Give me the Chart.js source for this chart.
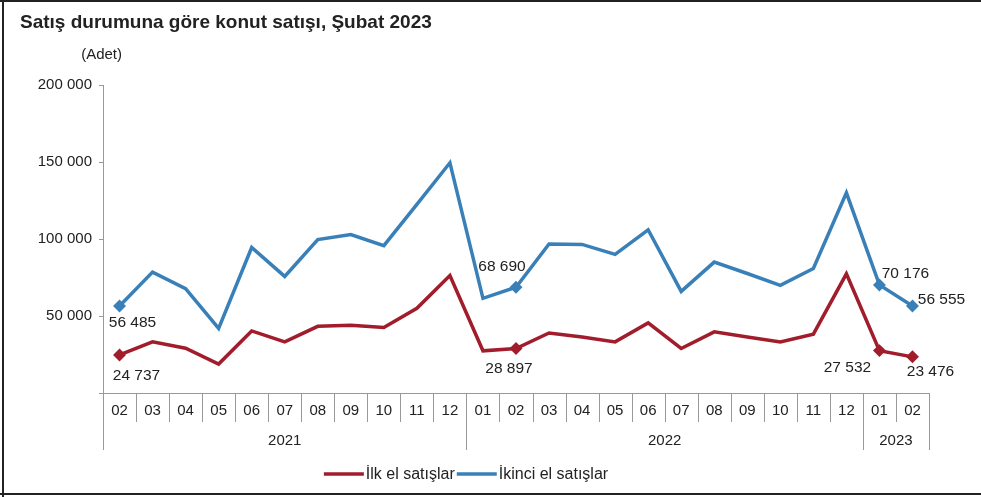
<!DOCTYPE html>
<html>
<head>
<meta charset="utf-8">
<script src="https://cdn.jsdelivr.net/npm/chart.js@4.4.0/dist/chart.umd.min.js"></script>
<style>
  body { margin: 0; background: #fff; }
  canvas { display: block; }
</style>
</head>
<body>
<canvas id="konut-chart" width="981" height="497"></canvas>
<script>
// dönemler (yıl-ay)
const periods = [
  "2021-02", "2021-03", "2021-04", "2021-05", "2021-06", "2021-07", "2021-08",
  "2021-09", "2021-10", "2021-11", "2021-12",
  "2022-01", "2022-02", "2022-03", "2022-04", "2022-05", "2022-06", "2022-07",
  "2022-08", "2022-09", "2022-10", "2022-11", "2022-12",
  "2023-01", "2023-02"
];

const ilkEl = [
  24737, 33200, 29100, 18800, 40300, 33200, 43300, 44000, 42500, 55000, 76300,
  27400, 28897, 39000, 36400, 33200, 45500, 28900, 39700, 36400, 33200, 38200, 77400,
  27532, 23476
];

const ikinciEl = [
  56485, 78500, 67800, 42000, 94500, 75700, 99600, 102900, 95700, 122500, 149500,
  61500, 68690, 96800, 96500, 90000, 106000, 66000, 85000, 77600, 69900, 80800, 130000,
  70176, 56555
];

const yTicks = [0, 50000, 100000, 150000, 200000];

// etiket gösterilen noktalar
const labelIdx = [0, 12, 23, 24];

const months = periods.map(p => p.split("-")[1]);
const years = periods.map(p => p.split("-")[0]);

const RED = "#a11d2b";
const BLUE = "#3a80b8";
const FONT = "Arial, 'Liberation Sans', sans-serif";

function fmt(n) {
  return String(n).replace(/\B(?=(\d{3})+(?!\d))/g, " ");
}

// etiket kaydırmaları (nokta merkezine göre)
const labelOffsets = [
  [[17, 21], [-7, 20], [-32, 17], [18, 15]],
  [[13, 17], [-14, -20], [26, -11], [29, -6]]
];

const radii = periods.map((p, i) => labelIdx.includes(i) ? 4 : 0);

const decorPlugin = {
  id: "decor",
  afterDraw(chart) {
    const ctx = chart.ctx;
    const area = chart.chartArea;
    const x = chart.scales.x;
    const step = x.getPixelForValue(1) - x.getPixelForValue(0);
    const left = x.getPixelForValue(0) - step / 2;
    const right = x.getPixelForValue(periods.length - 1) + step / 2;
    const axisY = area.bottom;

    ctx.save();

    // çerçeve
    ctx.strokeStyle = "#222";
    ctx.lineWidth = 2;
    ctx.beginPath();
    ctx.moveTo(0, 1); ctx.lineTo(981, 1);
    ctx.moveTo(3, 0); ctx.lineTo(3, 497);
    ctx.moveTo(0, 494); ctx.lineTo(981, 494);
    ctx.stroke();

    // başlık
    ctx.fillStyle = "#222";
    ctx.font = "bold 19px " + FONT;
    ctx.textAlign = "left";
    ctx.textBaseline = "middle";
    ctx.fillText("Satış durumuna göre konut satışı, Şubat 2023", 20, 23);

    ctx.font = "15px " + FONT;
    ctx.textAlign = "right";
    ctx.fillText("(Adet)", 122, 55);

    // x ekseni ve tablo çizgileri
    ctx.strokeStyle = "#999";
    ctx.lineWidth = 1;
    ctx.beginPath();
    ctx.moveTo(left - 4, axisY + 0.5);
    ctx.lineTo(right, axisY + 0.5);
    ctx.moveTo(Math.round(left) + 0.5, axisY);
    ctx.lineTo(Math.round(left) + 0.5, 450);
    ctx.moveTo(Math.round(right) + 0.5, axisY);
    ctx.lineTo(Math.round(right) + 0.5, 450);
    for (let i = 1; i < periods.length; i++) {
      const bx = Math.round(x.getPixelForValue(i) - step / 2) + 0.5;
      const bottom = years[i] !== years[i - 1] ? 450 : 422;
      ctx.moveTo(bx, axisY);
      ctx.lineTo(bx, bottom);
    }
    ctx.stroke();

    ctx.fillStyle = "#222";
    ctx.font = "15px " + FONT;
    ctx.textAlign = "center";
    ctx.textBaseline = "middle";
    months.forEach((m, i) => {
      ctx.fillText(m, x.getPixelForValue(i), 411);
    });

    // yıl grupları
    let start = 0;
    for (let i = 1; i <= periods.length; i++) {
      if (i === periods.length || years[i] !== years[start]) {
        const cx = (x.getPixelForValue(start) + x.getPixelForValue(i - 1)) / 2;
        ctx.fillText(years[start], cx, 441);
        start = i;
      }
    }

    // veri etiketleri
    ctx.font = "15.5px " + FONT;
    chart.data.datasets.forEach((ds, di) => {
      const meta = chart.getDatasetMeta(di);
      labelIdx.forEach((idx, k) => {
        const pt = meta.data[idx];
        const off = labelOffsets[di][k];
        ctx.fillText(fmt(ds.data[idx]), pt.x + off[0], pt.y + off[1]);
      });
    });

    // açıklama
    ctx.font = "16px " + FONT;
    const items = chart.data.datasets.map(ds => ({
      text: ds.label, color: ds.borderColor, w: ctx.measureText(ds.label).width
    }));
    const lineLen = 40;
    const total = items.reduce((s, it) => s + lineLen + 2 + it.w + 2, 0);
    let lx = 467 - total / 2;
    const ly = 474;
    ctx.textAlign = "left";
    items.forEach(it => {
      ctx.strokeStyle = it.color;
      ctx.lineWidth = 3.5;
      ctx.beginPath();
      ctx.moveTo(lx, ly);
      ctx.lineTo(lx + lineLen, ly);
      ctx.stroke();
      lx += lineLen + 2;
      ctx.fillStyle = "#222";
      ctx.fillText(it.text, lx, ly + 1);
      lx += it.w + 2;
    });

    ctx.restore();
  }
};

const ctx = document.getElementById("konut-chart").getContext("2d");
new Chart(ctx, {
  type: "line",
  data: {
    labels: periods,
    datasets: [
      {
        label: "İlk el satışlar",
        data: ilkEl,
        borderColor: RED,
        backgroundColor: RED,
        borderWidth: 3.5,
        pointStyle: "rectRot",
        pointRadius: radii,
        tension: 0
      },
      {
        label: "İkinci el satışlar",
        data: ikinciEl,
        borderColor: BLUE,
        backgroundColor: BLUE,
        borderWidth: 3.5,
        pointStyle: "rectRot",
        pointRadius: radii,
        tension: 0
      }
    ]
  },
  options: {
    responsive: false,
    animation: false,
    layout: { padding: { top: 85, right: 52, bottom: 104, left: 0 } },
    plugins: {
      legend: { display: false },
      tooltip: { enabled: false }
    },
    scales: {
      x: {
        display: false,
        offset: true
      },
      y: {
        min: 0,
        max: 200000,
        afterFit(scale) { scale.width = 103; },
        afterBuildTicks(scale) { scale.ticks = yTicks.map(v => ({ value: v })); },
        border: { color: "#999", width: 1 },
        grid: { drawOnChartArea: false, tickLength: 4, color: "#999" },
        ticks: {
          padding: 7,
          color: "#222",
          font: { family: FONT, size: 15 },
          callback: v => v === 0 ? "" : fmt(v)
        }
      }
    }
  },
  plugins: [decorPlugin]
});
</script>
</body>
</html>
